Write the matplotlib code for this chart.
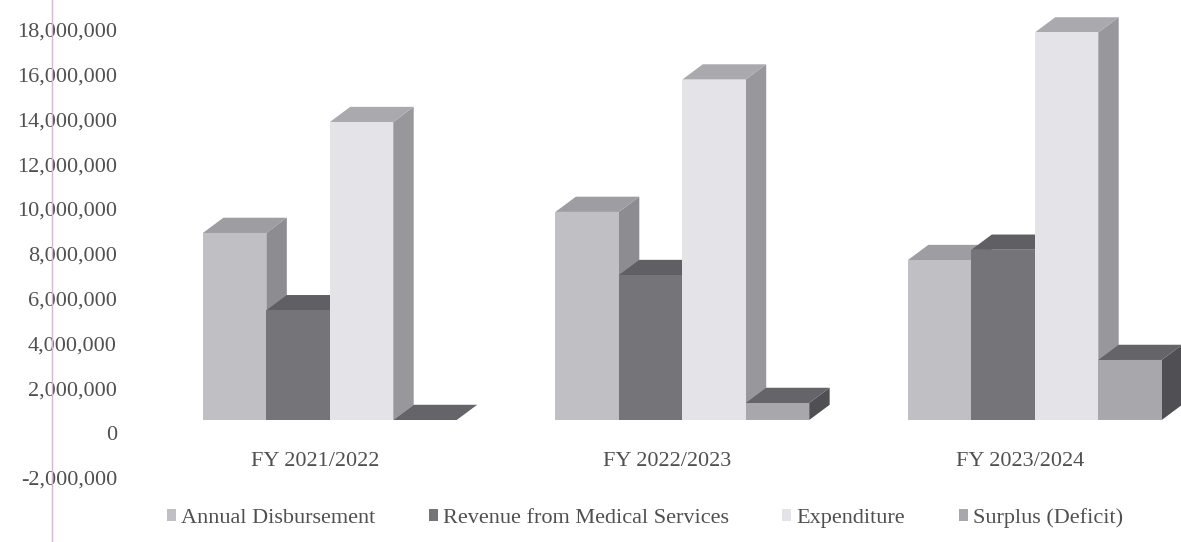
import matplotlib
matplotlib.use('Agg')
import matplotlib.pyplot as plt
from matplotlib.patches import Polygon, Patch
from matplotlib.lines import Line2D
from matplotlib.ticker import FuncFormatter

CATEGORIES = ['FY 2021/2022', 'FY 2022/2023', 'FY 2023/2024']
SERIES = ['Annual Disbursement', 'Revenue from Medical Services',
          'Expenditure', 'Surplus (Deficit)']

ANNUAL_DISBURSEMENT = [8350000, 9290000, 7140000]
REVENUE_MEDICAL = [4900000, 6470000, 7600000]
EXPENDITURE = [13300000, 15200000, 17300000]
SURPLUS_DEFICIT = [0, 760000, 2680000]

Y_TICKS = list(range(-2000000, 18000001, 2000000))

# front, side, top shades for each series
COLORS = [
    ('#bfbfc4', '#8c8c91', '#9d9da2'),
    ('#747479', '#55555a', '#5f5f64'),
    ('#e3e3e8', '#97979c', '#a9a9ae'),
    ('#a7a7ac', '#4f4f54', '#646469'),
]

W, H = 1181, 542
FONT = 'Liberation Serif'
TEXT_COLOR = '#505050'

# pixel layout of the scanned chart
X0_PX, PX_PER_CAT = 315, 352.5
Y0_PX, PX_PER_VAL = 433, 22.4 / 1e6
AX_LEFT_PX, AX_BOTTOM_PX = 140, 490

BAR_W = 0.18
GROUP_START = -0.318
FLOOR = 0.58e6
DEPTH_X = 0.058
DEPTH_Y = 0.68e6


def draw_bar3d(ax, x, h, colors, z):
    front, side, top = colors
    t = FLOOR + h
    xr = x + BAR_W
    ax.add_patch(Polygon([(xr, FLOOR), (xr + DEPTH_X, FLOOR + DEPTH_Y),
                          (xr + DEPTH_X, t + DEPTH_Y), (xr, t)],
                         closed=True, facecolor=side, edgecolor='none', zorder=z))
    ax.add_patch(Polygon([(x, t), (x + DEPTH_X, t + DEPTH_Y),
                          (xr + DEPTH_X, t + DEPTH_Y), (xr, t)],
                         closed=True, facecolor=top, edgecolor='none', zorder=z + 1))


fig = plt.figure(figsize=(W / 100, H / 100), dpi=100)
ax = fig.add_axes([AX_LEFT_PX / W, 1 - AX_BOTTOM_PX / H,
                   (W - AX_LEFT_PX) / W, AX_BOTTOM_PX / H])

values = [ANNUAL_DISBURSEMENT, REVENUE_MEDICAL, EXPENDITURE, SURPLUS_DEFICIT]
for j, series in enumerate(values):
    xs = [i + GROUP_START + j * BAR_W for i in range(len(CATEGORIES))]
    z = 2 + 3 * j
    for x, h in zip(xs, series):
        draw_bar3d(ax, x, h, COLORS[j], z)
    ax.bar(xs, series, width=BAR_W, bottom=FLOOR, align='edge',
           color=COLORS[j][0], edgecolor='none', zorder=z + 2)

for i, cat in enumerate(CATEGORIES):
    ax.text(i, (Y0_PX - 461) / PX_PER_VAL, cat, ha='center', va='center',
            fontsize=16, family=FONT, color=TEXT_COLOR)

ax.set_xlim((AX_LEFT_PX - X0_PX) / PX_PER_CAT, (W - X0_PX) / PX_PER_CAT)
ax.set_ylim((Y0_PX - AX_BOTTOM_PX) / PX_PER_VAL, Y0_PX / PX_PER_VAL)
ax.set_xticks([])
ax.set_yticks(Y_TICKS)
ax.yaxis.set_major_formatter(FuncFormatter(lambda v, p: f'{v:,.0f}'))
ax.tick_params(axis='y', length=0, pad=16.6, labelsize=16, labelcolor=TEXT_COLOR)
for lbl in ax.get_yticklabels():
    lbl.set_family(FONT)
for s in ax.spines.values():
    s.set_visible(False)

handles = [Patch(facecolor=c[0], edgecolor='none') for c in COLORS]
fig.legend(handles, SERIES, loc='center', bbox_to_anchor=(645 / W, 1 - 518 / H),
           ncol=4, frameon=False, handlelength=0.4, handleheight=0.4,
           handletextpad=0.25, columnspacing=2.4,
           prop={'family': FONT, 'size': 16}, labelcolor=TEXT_COLOR)

# pink margin line from the scanned page
fig.add_artist(Line2D([52 / W, 52 / W], [0, 1], color='#dcb2d6', lw=1.0))

fig.savefig('out.png', dpi=100)
